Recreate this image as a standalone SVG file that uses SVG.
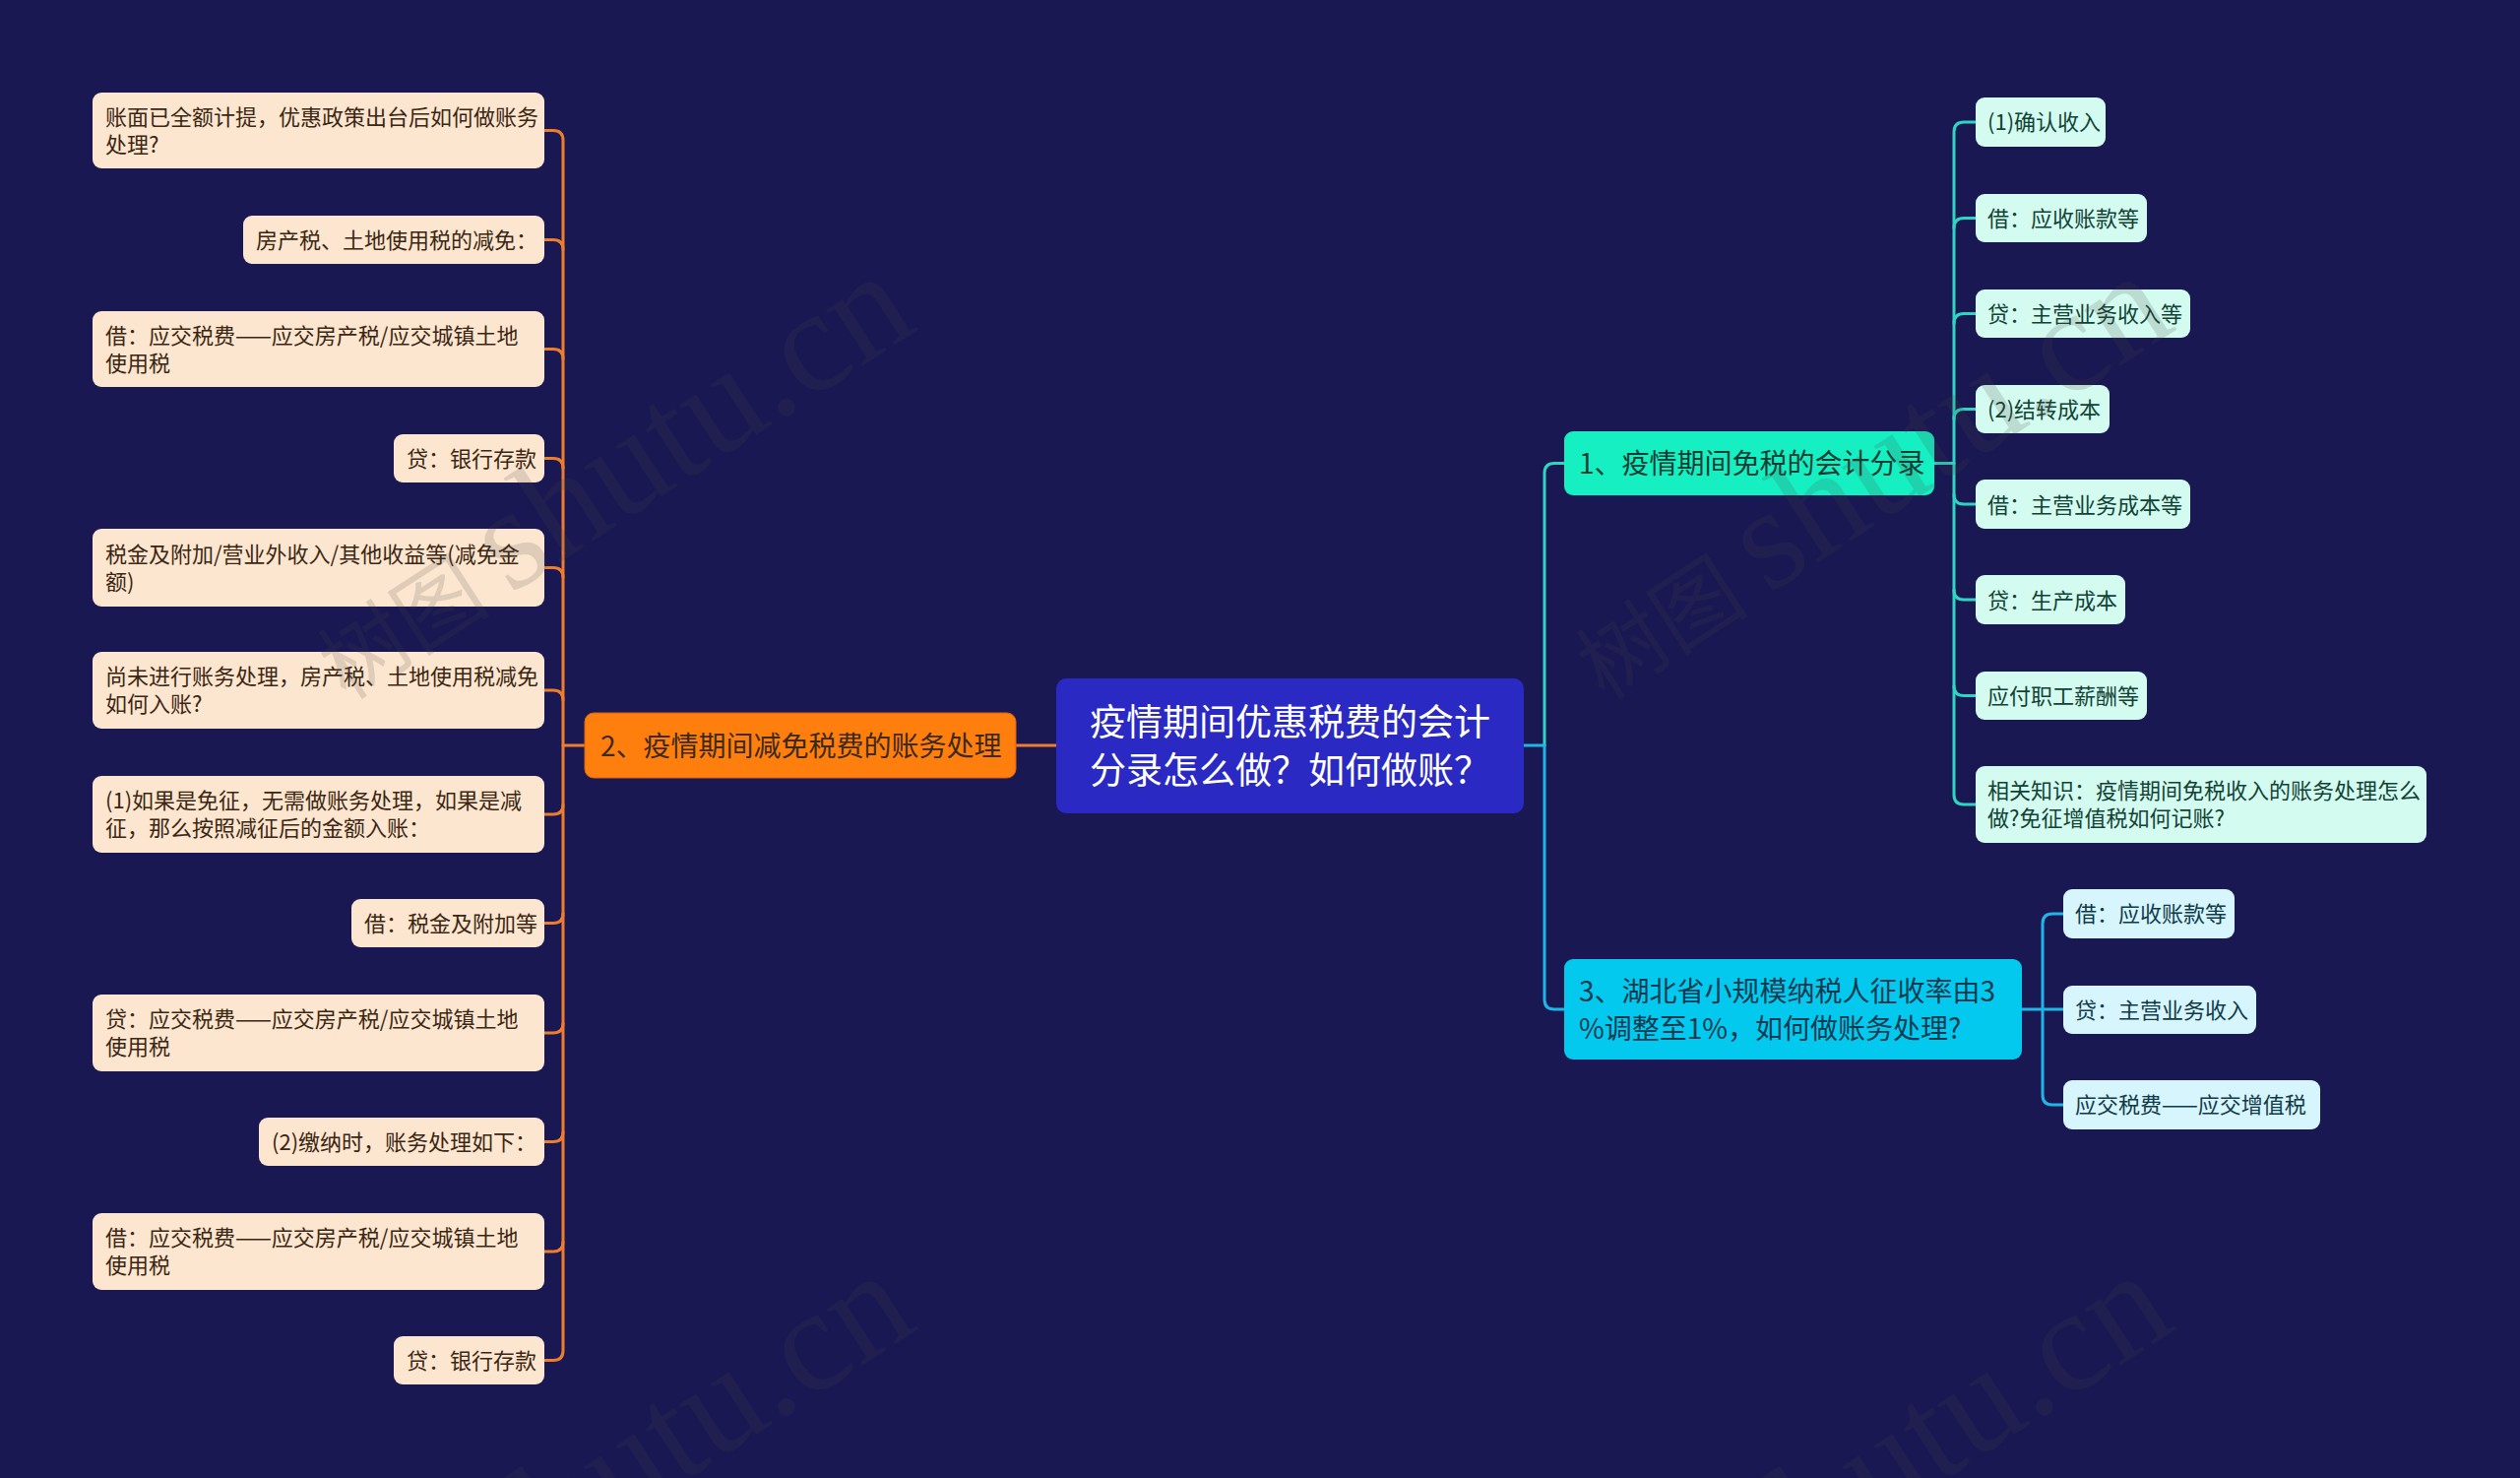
<svg xmlns="http://www.w3.org/2000/svg" width="2560" height="1501" viewBox="0 0 2560 1501">
<style>
text{font-family:"Noto Sans CJK SC","Noto Sans",sans-serif;}
.wm{font-family:"Liberation Serif","Noto Sans CJK SC",serif;fill:#4a4a4a;fill-opacity:0.17;}
.ln{fill:none;stroke-width:3;stroke-linecap:round;stroke-linejoin:round;}
.lo{stroke:#ee7d2e;}
.lg{stroke:#2cd6c0;}
.lb{stroke:#1fb6e6;}
.root rect{fill:#2a29c4;}
.root text{fill:#ffffff;font-size:37px;}
.b2 rect{fill:#ff7f0e;stroke:#d9650f;stroke-width:1;}
.b2 text{fill:#3c2a14;font-size:28px;}
.b1 rect{fill:#15efc2;}
.b1 text{fill:#0f3d33;font-size:28px;}
.b3 rect{fill:#04c9ef;}
.b3 text{fill:#0d3a4e;font-size:28px;}
.lo-n rect{fill:#fde6cf;}
.lo-n text{fill:#3a2613;font-size:22px;}
.g-n rect{fill:#d4fbef;}
.g-n text{fill:#114236;font-size:22px;}
.c-n rect{fill:#d6f5fd;}
.c-n text{fill:#113a48;font-size:22px;}
</style>
<rect x="0" y="0" width="2560" height="1501" fill="#1a1852"/>

<g id="connectors">
  <path class="ln lo" d="M1073 757 H1032"/>
  <path class="ln lo" d="M594 757 H572"/>
  <path class="ln lo" d="M553 132.5 H562 Q572 132.5 572 142.5 V1371.5 Q572 1381.5 562 1381.5 H553"/>
  <path class="ln lo" d="M553 243.5 H562 Q572 243.5 572 253.5"/>
  <path class="ln lo" d="M553 354.5 H562 Q572 354.5 572 364.5"/>
  <path class="ln lo" d="M553 465.5 H562 Q572 465.5 572 475.5"/>
  <path class="ln lo" d="M553 576.5 H562 Q572 576.5 572 586.5"/>
  <path class="ln lo" d="M553 701 H562 Q572 701 572 711"/>
  <path class="ln lo" d="M553 827 H562 Q572 827 572 817"/>
  <path class="ln lo" d="M553 937.5 H562 Q572 937.5 572 927.5"/>
  <path class="ln lo" d="M553 1049 H562 Q572 1049 572 1039"/>
  <path class="ln lo" d="M553 1159.5 H562 Q572 1159.5 572 1149.5"/>
  <path class="ln lo" d="M553 1271 H562 Q572 1271 572 1261"/>
  <path class="ln lb" d="M1548 757 H1569"/>
  <path class="ln lg" d="M1589 470.5 H1579 Q1569 470.5 1569 480.5 V757"/>
  <path class="ln lb" d="M1569 757 V1015 Q1569 1025 1579 1025 H1589"/>
  <path class="ln lg" d="M1965 470.5 H1985"/>
  <path class="ln lg" d="M2007 124 H1995 Q1985 124 1985 134 V807 Q1985 817 1995 817 H2007"/>
  <path class="ln lg" d="M2007 221.5 H1995 Q1985 221.5 1985 231.5"/>
  <path class="ln lg" d="M2007 318.5 H1995 Q1985 318.5 1985 328.5"/>
  <path class="ln lg" d="M2007 415.5 H1995 Q1985 415.5 1985 425.5"/>
  <path class="ln lg" d="M2007 512 H1995 Q1985 512 1985 502"/>
  <path class="ln lg" d="M2007 609 H1995 Q1985 609 1985 599"/>
  <path class="ln lg" d="M2007 706.5 H1995 Q1985 706.5 1985 696.5"/>
  <path class="ln lb" d="M2054 1025 H2096"/>
  <path class="ln lb" d="M2096 928 H2085 Q2075 928 2075 938 V1112 Q2075 1122 2085 1122 H2096"/>
</g>

<g id="root" class="root">
  <rect x="1073" y="689" width="475" height="137" rx="10"/>
  <text x="1107" y="746.5">疫情期间优惠税费的会计</text>
  <text x="1107" y="795.5">分录怎么做？如何做账？</text>
</g>

<g id="branch2" class="b2">
  <rect x="594" y="724" width="438" height="66" rx="9"/>
  <text x="610" y="767.5">2、疫情期间减免税费的账务处理</text>
</g>

<g id="l1" class="lo-n"><rect x="94" y="94" width="459" height="77" rx="9"/>
  <text x="107" y="126.5">账面已全额计提，优惠政策出台后如何做账务</text><text x="107" y="154.5">处理?</text></g>
<g id="l2" class="lo-n"><rect x="247" y="219" width="306" height="49" rx="9"/>
  <text x="260" y="252">房产税、土地使用税的减免：</text></g>
<g id="l3" class="lo-n"><rect x="94" y="316" width="459" height="77" rx="9"/>
  <text x="107" y="348.5">借：应交税费——应交房产税/应交城镇土地</text><text x="107" y="376.5">使用税</text></g>
<g id="l4" class="lo-n"><rect x="400" y="441" width="153" height="49" rx="9"/>
  <text x="413" y="474">贷：银行存款</text></g>
<g id="l5" class="lo-n"><rect x="94" y="537" width="459" height="79" rx="9"/>
  <text x="107" y="570.5">税金及附加/营业外收入/其他收益等(减免金</text><text x="107" y="598.5">额)</text></g>
<g id="l6" class="lo-n"><rect x="94" y="662" width="459" height="78" rx="9"/>
  <text x="107" y="695">尚未进行账务处理，房产税、土地使用税减免</text><text x="107" y="723">如何入账?</text></g>
<g id="l7" class="lo-n"><rect x="94" y="788" width="459" height="78" rx="9"/>
  <text x="107" y="821">(1)如果是免征，无需做账务处理，如果是减</text><text x="107" y="849">征，那么按照减征后的金额入账：</text></g>
<g id="l8" class="lo-n"><rect x="357" y="913" width="196" height="49" rx="9"/>
  <text x="370" y="946">借：税金及附加等</text></g>
<g id="l9" class="lo-n"><rect x="94" y="1010" width="459" height="78" rx="9"/>
  <text x="107" y="1043">贷：应交税费——应交房产税/应交城镇土地</text><text x="107" y="1071">使用税</text></g>
<g id="l10" class="lo-n"><rect x="263" y="1135" width="290" height="49" rx="9"/>
  <text x="276" y="1168">(2)缴纳时，账务处理如下：</text></g>
<g id="l11" class="lo-n"><rect x="94" y="1232" width="459" height="78" rx="9"/>
  <text x="107" y="1265">借：应交税费——应交房产税/应交城镇土地</text><text x="107" y="1293">使用税</text></g>
<g id="l12" class="lo-n"><rect x="400" y="1357" width="153" height="49" rx="9"/>
  <text x="413" y="1390">贷：银行存款</text></g>

<g id="branch1" class="b1">
  <rect x="1589" y="438" width="376" height="65" rx="9"/>
  <text x="1604" y="481">1、疫情期间免税的会计分录</text>
</g>
<g id="g1" class="g-n"><rect x="2007" y="99" width="132" height="50" rx="9"/><text x="2019" y="132">(1)确认收入</text></g>
<g id="g2" class="g-n"><rect x="2007" y="197" width="174" height="49" rx="9"/><text x="2019" y="230">借：应收账款等</text></g>
<g id="g3" class="g-n"><rect x="2007" y="294" width="218" height="49" rx="9"/><text x="2019" y="327">贷：主营业务收入等</text></g>
<g id="g4" class="g-n"><rect x="2007" y="391" width="136" height="49" rx="9"/><text x="2019" y="424">(2)结转成本</text></g>
<g id="g5" class="g-n"><rect x="2007" y="487" width="218" height="50" rx="9"/><text x="2019" y="520.5">借：主营业务成本等</text></g>
<g id="g6" class="g-n"><rect x="2007" y="584" width="152" height="50" rx="9"/><text x="2019" y="617.5">贷：生产成本</text></g>
<g id="g7" class="g-n"><rect x="2007" y="682" width="174" height="49" rx="9"/><text x="2019" y="715">应付职工薪酬等</text></g>
<g id="g8" class="g-n"><rect x="2007" y="778" width="458" height="78" rx="9"/>
  <text x="2019" y="811">相关知识：疫情期间免税收入的账务处理怎么</text><text x="2019" y="839">做?免征增值税如何记账?</text></g>

<g id="branch3" class="b3">
  <rect x="1589" y="974" width="465" height="102" rx="9"/>
  <text x="1604" y="1016.5">3、湖北省小规模纳税人征收率由3</text>
  <text x="1604" y="1054.5">%调整至1%，如何做账务处理?</text>
</g>
<g id="c1" class="c-n"><rect x="2096" y="903" width="174" height="50" rx="9"/><text x="2108" y="936">借：应收账款等</text></g>
<g id="c2" class="c-n"><rect x="2096" y="1001" width="196" height="49" rx="9"/><text x="2108" y="1034">贷：主营业务收入</text></g>
<g id="c3" class="c-n"><rect x="2096" y="1097" width="261" height="50" rx="9"/><text x="2108" y="1130">应交税费——应交增值税</text></g>

<g id="watermarks">
  <text class="wm" transform="translate(352,712) rotate(-33)"><tspan font-size="88">树图</tspan><tspan font-size="148" dx="22">shutu.cn</tspan></text>
  <text class="wm" transform="translate(1630,712) rotate(-33)"><tspan font-size="88">树图</tspan><tspan font-size="148" dx="22">shutu.cn</tspan></text>
  <text class="wm" transform="translate(352,1727) rotate(-33)"><tspan font-size="88">树图</tspan><tspan font-size="148" dx="22">shutu.cn</tspan></text>
  <text class="wm" transform="translate(1630,1727) rotate(-33)"><tspan font-size="88">树图</tspan><tspan font-size="148" dx="22">shutu.cn</tspan></text>
</g>
</svg>
